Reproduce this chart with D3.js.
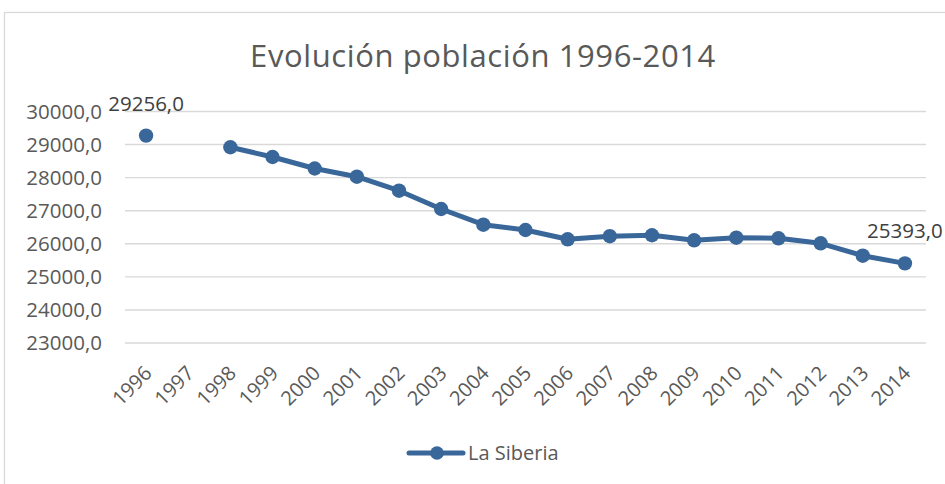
<!DOCTYPE html>
<html>
<head>
<meta charset="utf-8">
<script src="https://cdn.jsdelivr.net/npm/d3@7"></script>
<style>
  body { margin: 0; background: #fff; }
  svg { display: block; font-family: "Open Sans", sans-serif; }
</style>
</head>
<body>
<div id="chart"></div>
<script>
const w = 945;
const h = 484;

// data (1997 has no value)
const years = ["1996", "1997", "1998", "1999", "2000", "2001", "2002", "2003", "2004", "2005",
               "2006", "2007", "2008", "2009", "2010", "2011", "2012", "2013", "2014"];
const population = [29256, null, 28903, 28609, 28262, 28014, 27590, 27037, 26562, 26402,
                    26121, 26214, 26242, 26090, 26169, 26151, 26000, 25625, 25393];
const yTicks = [23000, 24000, 25000, 26000, 27000, 28000, 29000, 30000];
const labelled = ["1996", "2014"];
const title = "Evolución población 1996-2014";
const seriesName = "La Siberia";

const blue = "#3a6799";
const grey = "#595959";
const gridColor = "#d9d9d9";

const plotLeft = 125, plotRight = 926, plotTop = 111, plotBottom = 342.5;

const dataset = years.map((y, i) => ({ year: y, value: population[i] }));

const xScale = d3.scaleBand()
    .domain(years)
    .range([plotLeft, plotRight]);

const cx = d => xScale(d) + xScale.bandwidth() / 2;

const yScale = d3.scaleLinear()
    .domain([23000, 30000])
    .range([plotBottom, plotTop]);

const svg = d3.select("#chart")
    .append("svg")
    .attr("width", w)
    .attr("height", h);

// chart area border
svg.append("rect")
    .attr("x", 4.5)
    .attr("y", 12.5)
    .attr("width", 1000)
    .attr("height", 1000)
    .attr("fill", "none")
    .attr("stroke", gridColor)
    .attr("stroke-width", 1.3);

svg.append("text")
    .attr("x", 483)
    .attr("y", 67)
    .attr("text-anchor", "middle")
    .attr("font-size", 31)
    .attr("letter-spacing", 0.6)
    .attr("fill", grey)
    .text(title);

// gridlines
const grid = svg.append("g")
    .attr("transform", "translate(" + plotLeft + ",0)")
    .call(d3.axisLeft(yScale).tickValues(yTicks).tickSize(-(plotRight - plotLeft)).tickFormat(""));
grid.select(".domain").remove();
grid.selectAll("line").attr("stroke", gridColor).attr("stroke-width", 1.4);

// y labels
const yAxis = svg.append("g")
    .attr("transform", "translate(" + plotLeft + ",0)")
    .call(d3.axisLeft(yScale).tickValues(yTicks).tickSize(0).tickPadding(23).tickFormat(d => d + ",0"));
yAxis.select(".domain").remove();
yAxis.selectAll("text")
    .attr("font-family", "Open Sans")
    .attr("font-size", 20.5)
    .attr("fill", grey)
    .attr("dy", "0.35em");

// x labels
const xAxis = svg.append("g")
    .attr("transform", "translate(0," + plotBottom + ")")
    .call(d3.axisBottom(xScale).tickSize(0));
xAxis.select(".domain").remove();
xAxis.selectAll("text")
    .attr("font-family", "Open Sans")
    .attr("font-size", 20)
    .attr("fill", grey)
    .attr("y", 0)
    .attr("dy", 0)
    .attr("text-anchor", "end")
    .attr("transform", "translate(7,32) rotate(-45)");

// line
const line = d3.line()
    .defined(d => d.value != null)
    .x(d => cx(d.year))
    .y(d => yScale(d.value));

svg.append("path")
    .datum(dataset)
    .attr("d", line)
    .attr("fill", "none")
    .attr("stroke", blue)
    .attr("stroke-width", 5)
    .attr("stroke-linejoin", "round")
    .attr("stroke-linecap", "round");

svg.selectAll("circle.pt")
    .data(dataset.filter(d => d.value != null))
    .enter()
    .append("circle")
    .attr("class", "pt")
    .attr("cx", d => cx(d.year))
    .attr("cy", d => yScale(d.value))
    .attr("r", 7.2)
    .attr("fill", blue);

// data labels on first and last points
svg.selectAll("text.lbl")
    .data(dataset.filter(d => labelled.includes(d.year)))
    .enter()
    .append("text")
    .attr("class", "lbl")
    .attr("x", d => cx(d.year))
    .attr("y", d => yScale(d.value) - 25)
    .attr("text-anchor", "middle")
    .attr("font-size", 20.5)
    .attr("fill", "#404040")
    .text(d => d3.format(".1f")(d.value).replace(".", ","));

// legend
const legend = svg.append("g").attr("transform", "translate(409,453)");
legend.append("line")
    .attr("x1", 0).attr("x2", 54)
    .attr("stroke", blue)
    .attr("stroke-width", 5)
    .attr("stroke-linecap", "round");
legend.append("circle")
    .attr("cx", 28)
    .attr("r", 6.8)
    .attr("fill", blue);
legend.append("text")
    .attr("x", 59)
    .attr("y", 7)
    .attr("font-size", 20)
    .attr("fill", grey)
    .text(seriesName);
</script>
</body>
</html>
